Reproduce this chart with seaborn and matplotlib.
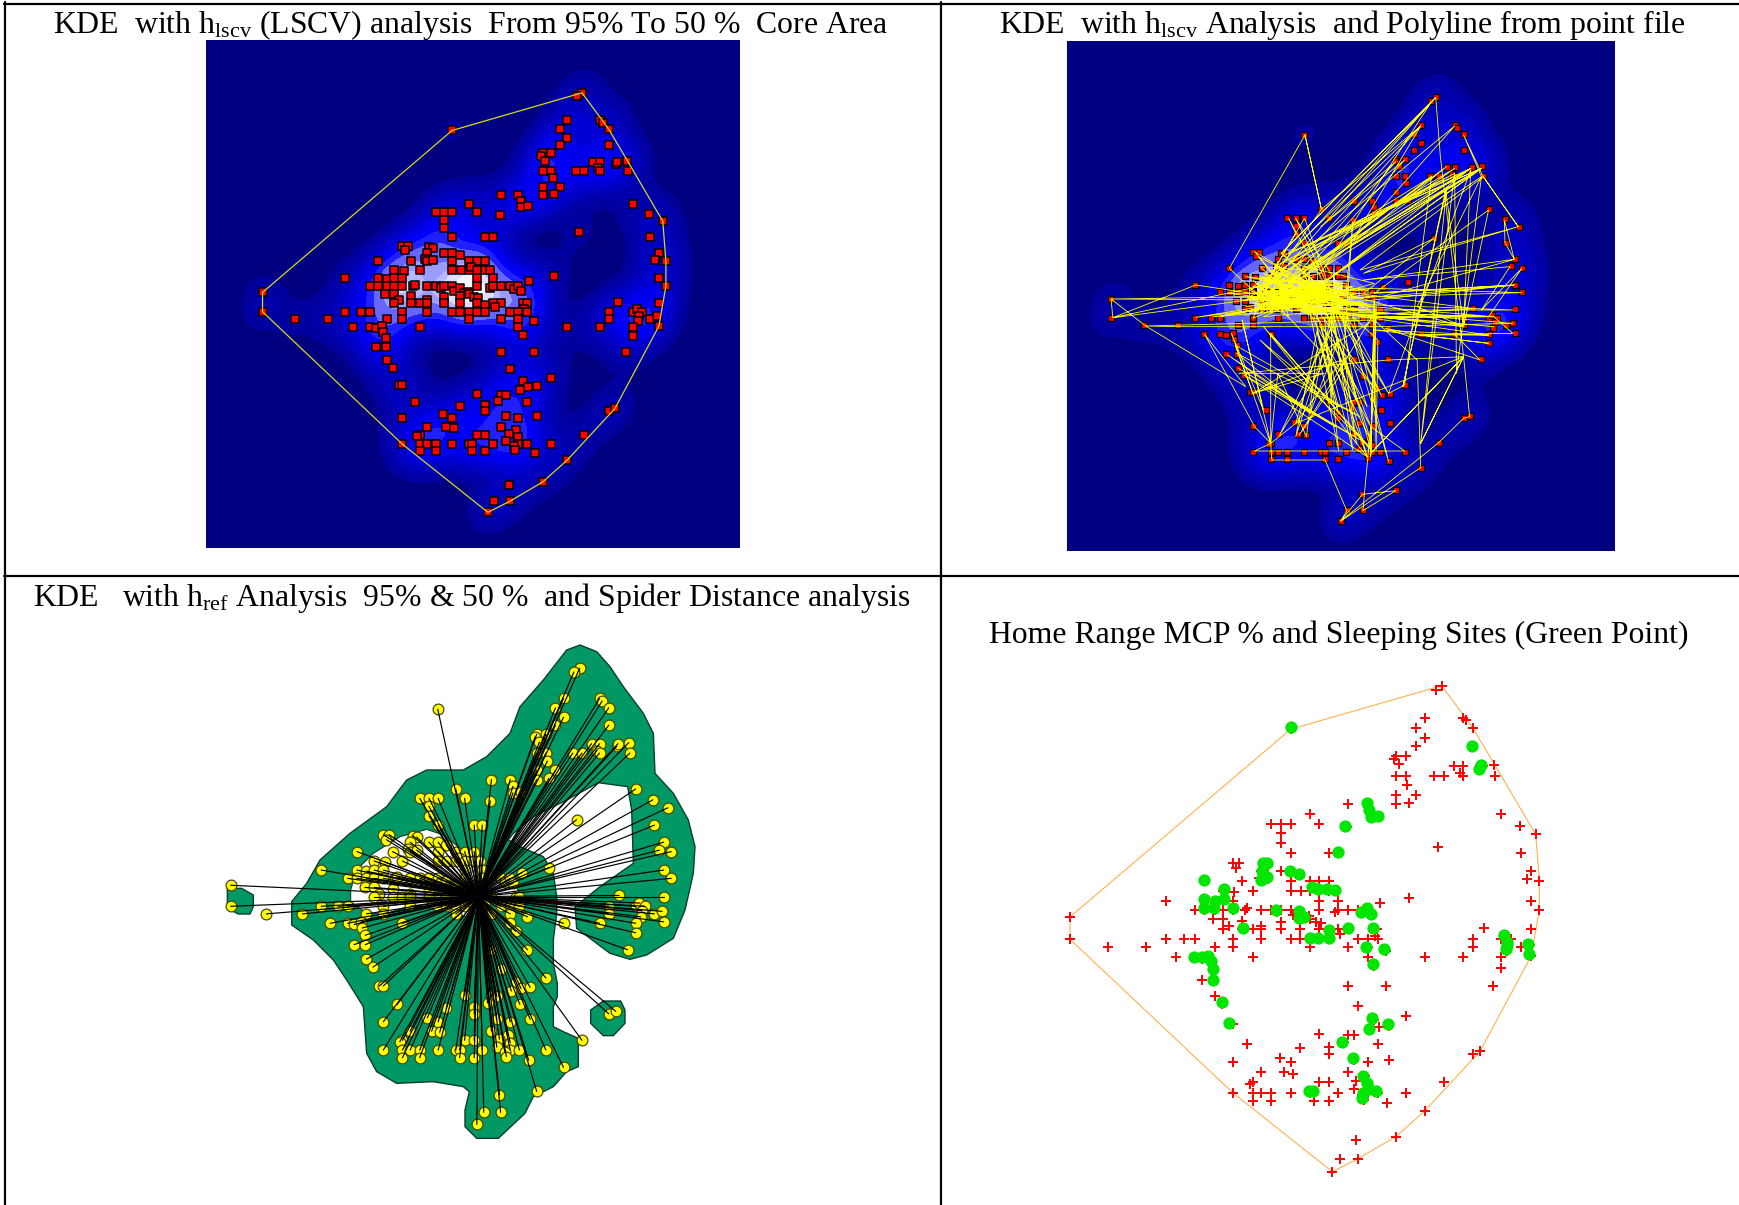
import matplotlib
matplotlib.use("Agg")
import matplotlib.pyplot as plt
from matplotlib.colors import LinearSegmentedColormap
import seaborn as sns

# all GPS fixes, in map units (same fixes are used by all four panels)
fixes = [
    (1088,158),(1073,168),(1046,241),(1025,267),(1046,293),(1025,315),(1140,241),(1147,248),(1164,267),(1164,315),
    (976,340),(972,347),(1000,340),(983,362),(976,392),(1000,392),(1004,414),(976,440),(1025,440),(976,465),(1008,462),
    (1070,392),(1094,392),(1119,366),(1140,366),(1133,385),(1140,392),(1185,373),(1188,366),(1216,363),(1219,392),
    (858,465),(907,465),(914,484),(914,502),(935,499),(855,524),(765,491),(788,517),(671,517),(695,517),(719,517),
    (695,539),(695,565),(719,591),(813,591),(834,591),(718,271),
    (1234,491),(1279,521),(1318,543),(1080,576),(1283,591),(1307,638),(1296,660),(1327,664),(1307,715),(1327,738),(1008,708),
    (576,617),(591,617),(584,631),(653,620),(663,624),(646,638),(695,638),(719,638),(740,645),(640,656),(646,664),(663,660),
    (719,664),(765,664),(788,664),(813,664),(507,664),(600,664),
    (552,690),(580,693),(626,690),(719,690),(743,690),(765,690),(773,682),(788,690),(813,690),(827,690),
    (414,715),(507,715),(532,718),(552,715),(576,715),(788,715),(834,715),(938,722),
    (483,738),(507,738),(532,738),(552,738),(576,738),(607,738),(611,734),(646,738),(671,738),(685,745),(695,738),(719,738),
    (723,752),(740,745),(751,759),(762,755),(827,745),(834,738),(858,738),(882,738),(893,748),(907,738),(914,752),(788,738),
    (528,763),(552,763),(566,781),(552,788),(600,767),(600,788),(626,788),(646,781),(646,788),(695,770),(695,788),(740,767),
    (740,788),(766,763),(780,770),(792,773),(788,788),(834,788),(858,788),(813,795),(840,802),(921,788),(930,788),(924,806),
    (178,757),(178,815),(414,815),(458,815),(483,815),(576,815),(646,815),(719,815),(740,815),(765,815),(788,815),(813,815),
    (882,815),(907,815),(931,815),
    (271,836),(365,836),(532,836),(576,836),(765,836),(858,836),(907,836),(952,844),
    (437,862),(483,862),(500,865),(518,858),(521,875),(626,862),(907,862),(921,884),(1046,862),(1140,862),
    (529,895),(500,921),(529,921),(858,935),(952,935),(532,961),(549,983),(882,987),(1000,1013),(921,1023),(566,1035),(576,1035),
    (935,1042),(959,1039),(910,1049),(788,1061),(858,1064),(872,1064),(848,1082),(612,1086),(932,1086),(740,1097),(813,1094),
    (813,1112),(691,1123),(576,1134),(719,1134),(872,1127),(907,1134),(959,1127),
    (646,1160),(702,1160),(723,1163),(858,1160),(900,1170),(879,1182),(626,1185),(619,1189),(788,1185),(813,1185),(907,1192),(1094,1185),
    (576,1212),(626,1212),(646,1212),(671,1212),(719,1212),(765,1212),(775,1212),(834,1212),(872,1204),(907,1212),(893,1218),(931,1212),(1000,1212),
    (626,1233),(671,1233),(775,1233),(813,1233),(897,1230),(955,1240),
    (1046,1260),(976,1326),(879,1336),(838,1384),(882,1384),(820,1417),
    (1191,785),(1164,815),(1164,836),(1234,815),(1244,806),(1258,815),(1251,827),(1247,844),(1283,836),(1303,829),(1307,788),(1307,858),
    (1234,862),(1234,888),(1213,935),(1164,1112),(1182,1105),
]
fix_x = [p[0] for p in fixes]
fix_y = [p[1] for p in fixes]

# minimum convex polygon
hull = [(178,757),(718,271),(1088,158),(1164,267),(1219,365),(1318,543),(1327,664),(1327,738),(1307,858),(1182,1105),
        (1046,1260),(976,1326),(882,1384),(820,1417),(576,1212),(178,815),(178,757)]
hull_x = [p[0] for p in hull]
hull_y = [p[1] for p in hull]

# spider distance centre
centre_x, centre_y = 824, 788

track = [
    (686,285),(474,685),(560,770),(732,508),(686,285),(732,508),(1010,258),(590,760),(880,745),(1293,758),(570,780),(143,777),
    (560,770),(1052,172),(620,640),(1040,185),(730,700),(148,833),(380,735),(600,770),(148,833),(143,777),(240,858),(520,1040),(405,883),
    (545,1160),(590,1210),(540,1060),(880,840),(240,858),(335,860),(880,860),(1268,850),(700,800),(1272,735),(850,760),(1047,595),(850,700),
    (1283,560),(840,690),(1185,410),(1283,560),(1185,410),(1130,285),(1180,410),(720,740),(1180,385),(620,650),(1150,385),(600,680),(1105,400),
    (640,670),(1105,258),(820,600),(1010,258),(640,640),(1180,385),(660,700),(1150,385),(750,720),(1180,385),(700,690),(1040,410),(650,720),
    (940,365),(730,560),(965,360),(680,700),(1082,380),(740,680),(1180,385),(780,640),(1150,385),(640,740),(1105,385),(560,740),
    (1052,172),(1065,350),(1130,950),(1147,1130),(1130,1135),(1058,1210),(786,1443),(803,1412),(742,1260),(593,1260),(590,1210),(545,1233),(965,1233),
    (870,1160),(848,1412),(940,1352),(847,1363),(786,1443),(1010,1283),(1000,960),(880,840),(870,1250),(880,780),(870,1230),(760,800),(760,1090),
    (740,830),(780,1230),(700,820),(870,1160),(740,800),(860,1250),(720,830),(860,1100),(760,780),(820,1230),(730,860),(885,1050),(700,780),
    (780,1120),(720,880),(870,1200),(760,840),(830,1085),(790,820),(900,1067),(770,800),(920,1060),(800,820),(920,1265),(820,830),(890,900),
    (885,1230),(880,900),(880,1100),(885,800),(870,1230),(590,880),(590,1210),(660,1150),(1130,950),(1010,1210),(1130,950),(870,1240),(1130,950),
    (920,960),(500,1000),(740,1000),(540,1060),(790,960),(660,1150),(720,930),(690,1190),(610,1000),(590,1210),(510,840),(570,1110),(480,880),
    (540,1060),(490,915),(840,1130),(495,940),(700,1120),(470,945),(770,1160),(500,985),(850,1205),(515,1005),(860,1250),(570,860),(870,1225),
    (560,900),(780,1100),(720,870),(660,1190),(760,860),(615,1185),(780,900),(700,1120),(760,820),(830,1210),(800,980),(670,1185),
    (880,820),(1215,830),(760,790),(1268,810),(700,810),(1215,860),(640,810),(1200,830),(700,835),(1160,806),(760,750),(1130,860),(650,800),
    (1200,885),(880,870),(1200,910),(1010,885),(1200,885),(1105,883),(1176,960),(910,865),(1010,885),(1268,880),(1215,830),(900,830),(1200,830),
    (1293,685),(1180,810),(1260,680),(850,720),(1272,658),(1244,540),(1246,608),(1272,658),(900,770),(1272,735),(880,760),(1200,510),(1130,860),
    (1080,450),(960,1040),(1082,450),(1010,1210),(1105,400),(1110,1000),(1180,410),(1000,800),(1130,860),(1150,390),(920,1060),(965,1035),(1040,410),
    # dense scribble in the core
    (540,740),(880,770),(560,800),(860,790),(550,760),(840,810),(580,720),(820,740),(600,810),(800,760),(620,700),(780,810),(540,790),(760,730),
    (570,830),(880,800),(590,750),(740,780),(610,680),(720,830),(640,760),(860,750),(560,710),(700,760),(620,810),(880,730),(650,670),(790,790),
    (530,770),(760,810),(570,760),(800,730),(600,720),(700,800),(540,810),(730,720),(680,770),(820,790),(630,740),(760,760),(580,790),(840,760),
    (610,770),(780,740),(660,800),(870,810),(590,690),(740,760),(550,780),(700,740),(640,790),(800,780),(620,750),(760,790),(570,770),(730,790),
    (680,700),(750,810),(600,790),(770,770),(650,760),(830,770),(560,750),(720,770),(610,740),(810,750),(580,810),(780,770),(660,730),(740,740),
    (540,760),(760,770),(520,800),(700,770),(450,830),(740,770),(380,832),(620,800),(430,830),(780,800),(470,760),(760,760),(520,710),(690,730),
    (545,635),(650,770),(555,650),(740,750),(620,640),(760,770),(640,535),(660,580),(560,760),(685,535),(760,760),(660,535),(800,770),(820,545),(790,1000),
    (540,720),(650,815),(530,750),(640,700),(545,815),(690,690),(560,680),(660,780),(540,835),(610,665),(590,820),(680,660),(520,780),(650,740),
    (570,700),(700,825),(555,740),(620,785),(530,815),(670,750),(600,700),(640,830),(545,770),(690,800),(580,740),(630,680),(560,820),(710,710),
]
track_x = [p[0] for p in track]
track_y = [p[1] for p in track]

# 95% KDE isopleth of panel 3 (crop units)
range_outer = [
    (1140,45),(1190,65),(1230,110),(1270,170),(1330,250),(1360,310),(1365,430),(1420,490),(1465,570),(1485,650),(1480,730),(1455,840),
    (1420,925),(1340,975),(1290,988),(1230,970),(1130,895),(1125,830),(1200,770),(1300,700),(1295,540),(1283,470),(1195,458),(1100,510),
    (1000,560),(940,610),(925,630),(960,650),(1030,680),(1060,730),(1070,800),(1070,850),(1060,930),(1060,1000),(1072,1060),(1072,1100),
    (1060,1130),(1060,1190),(1090,1205),(1135,1225),(1135,1310),(1100,1325),(1060,1370),(1000,1400),(990,1420),(975,1450),(895,1525),(830,1525),
    (795,1490),(795,1440),(808,1385),(790,1370),(700,1355),(590,1360),(530,1325),(500,1270),(495,1200),(490,1130),(440,1050),(400,990),
    (340,930),(275,885),(275,815),(320,760),(360,690),(450,610),(560,530),(620,450),(680,420),(790,420),(860,380),(930,310),(960,230),(1030,150),(1100,60),
]
range_hole = [
    (452,780),(470,720),(520,670),(600,620),(680,598),(730,615),(800,670),(860,720),(930,740),(960,790),(930,850),(870,820),(800,860),
    (720,840),(640,825),(560,850),(500,850),(452,815),
]
island_left = [(82,775),(125,775),(160,795),(160,830),(150,852),(115,852),(82,835)]
island_right = [(1210,1113),(1262,1113),(1275,1140),(1275,1180),(1240,1217),(1210,1217),(1172,1180),(1172,1140)]

# sleeping sites of panel 4 (crop units)
sleep_sites = [
    (723,172),(1265,229),(1293,285),(1288,297),(950,399),(958,420),(963,440),(985,437),(886,468),(865,545),
    (640,580),(652,580),(636,602),(650,620),(634,630),(720,602),(748,611),(463,630),(521,658),(463,686),(495,692),(521,686),
    (462,715),(492,715),(549,715),(785,650),(805,658),(830,658),(855,660),(679,720),(748,722),(748,745),(763,740),(950,715),
    (933,727),(963,733),(836,780),(893,775),(968,775),(578,775),(780,803),(805,803),(836,803),(949,832),(1003,838),(968,882),
    (432,860),(455,862),(475,858),(484,872),(490,898),(490,930),(515,995),(538,1058),
    (965,1043),(1013,1062),(956,1077),(877,1115),(908,1163),(940,1217),(950,1238),(958,1258),(978,1262),(940,1270),(936,1285),
    (778,1262),(790,1262),(1363,795),(1372,815),(1372,825),(1368,838),(1435,822),(1438,853),
]
sleep_x = [p[0] for p in sleep_sites]
sleep_y = [p[1] for p in sleep_sites]

titles = [
    ("KDE  with h$_{lscv}$ (LSCV) analysis  From 95% To 50 %  Core Area", 53, 33),
    ("KDE  with h$_{lscv}$ Analysis  and Polyline from point file", 999, 33),
    ("KDE   with h$_{ref}$ Analysis  95% & 50 %  and Spider Distance analysis", 33, 606),
    ("Home Range MCP % and Sleeping Sites (Green Point)", 989, 643),
]

kde_levels = [0.035, 0.08, 0.15, 0.25, 0.37, 0.5, 0.63, 0.74, 0.83, 0.89, 0.94, 0.975, 1]
kde_cmap = LinearSegmentedColormap.from_list(
    "kde", ["#00009a", "#0000c0", "#0000e8", "#0000ff", "#3838ff", "#8080ff", "#b0b0ff", "#e8e8ff", "#ffffff"])

W, H = 1740, 1205
sns.set_theme(style="white")
plt.rcParams["font.family"] = ["Liberation Serif", "DejaVu Serif"]
plt.rcParams["mathtext.default"] = "regular"

fig = plt.figure(figsize=(W / 100, H / 100), dpi=100, facecolor="white")


def make_axes(box, xlim, ylim, bg=None):
    left, top, right, bottom = box
    ax = fig.add_axes([left / W, 1 - bottom / H, (right - left) / W, (bottom - top) / H])
    ax.set_xlim(xlim)
    ax.set_ylim(ylim)
    ax.set_xticks([])
    ax.set_yticks([])
    sns.despine(ax=ax, left=True, bottom=True)
    if bg:
        ax.set_facecolor(bg)
    else:
        ax.patch.set_alpha(0)
    return ax


def tidy(ax, xlim, ylim):
    ax.set(xlabel="", ylabel="", xlim=xlim, ylim=ylim, xticks=[], yticks=[])


# panel 1 - KDE, fixes, MCP
lims1 = ((17, 1538), (1524, 1))
ax1 = make_axes((206, 40.5, 740, 548), *lims1, bg="#000080")
sns.kdeplot(x=fix_x, y=fix_y, ax=ax1, fill=True, levels=kde_levels, cmap=kde_cmap, bw_adjust=0.52, gridsize=220, cut=6)
sns.scatterplot(x=fix_x, y=fix_y, ax=ax1, marker="s", s=30, color="#ff0000", edgecolor="black", linewidth=1.1, zorder=5)
sns.lineplot(x=hull_x, y=hull_y, ax=ax1, sort=False, estimator=None, color="#d8d820", linewidth=0.9, zorder=6)
tidy(ax1, *lims1)

# panel 2 - KDE, fixes, track
lims2 = ((54.7, 1587.6), (1506.3, -9.3))
ax2 = make_axes((1067, 41, 1615, 551), *lims2, bg="#000080")
sns.kdeplot(x=fix_x, y=fix_y, ax=ax2, fill=True, levels=kde_levels, cmap=kde_cmap, bw_adjust=0.52, gridsize=220, cut=6)
sns.scatterplot(x=fix_x, y=fix_y, ax=ax2, marker="s", s=16, color="#ff0000", edgecolor="black", linewidth=0.9, zorder=5)
tidy(ax2, *lims2)
lims2b = ((0, 1568), (1560, 0))
ax2b = make_axes((1060, 40, 1620, 560), *lims2b)
sns.lineplot(x=track_x, y=track_y, ax=ax2b, sort=False, estimator=None, color="#ffff00", linewidth=0.6)
tidy(ax2b, *lims2b)

# panel 3 - isopleths and spider distance
lims3a = ((0, 1560), (1560, 0))
ax3a = make_axes((200, 630, 720, 1150), *lims3a)
for shape in [range_outer, island_left, island_right]:
    ax3a.fill([p[0] for p in shape], [p[1] for p in shape], facecolor="#009966", edgecolor="#0c3d2c", linewidth=1.0)
ax3a.fill([p[0] for p in range_hole], [p[1] for p in range_hole], facecolor="white", edgecolor="#0c3d2c", linewidth=0.8)
lims3 = ((98, 1454), (1487.9, 52.2))
ax3 = make_axes((200, 630, 720, 1150), *lims3)
sns.scatterplot(x=fix_x, y=fix_y, ax=ax3, marker="o", s=60, color="#ffff00", edgecolor="#4a4a00", linewidth=0.9, zorder=3)
for x, y in fixes:
    ax3.plot([centre_x, x], [centre_y, y], color="black", linewidth=0.85, zorder=4)
tidy(ax3, *lims3)

# panel 4 - MCP, fixes, sleeping sites
lims4 = ((129, 1402), (1464.4, 117.3))
ax4 = make_axes((1050, 670, 1570, 1190), *lims4)
sns.lineplot(x=hull_x, y=hull_y, ax=ax4, sort=False, estimator=None, color="#ffb050", linewidth=0.8)
sns.scatterplot(x=fix_x, y=fix_y, ax=ax4, marker="+", s=50, color="#ff0000", linewidth=1.4, zorder=4)
tidy(ax4, *lims4)
lims4b = ((0, 1560), (1560, 0))
ax4b = make_axes((1050, 670, 1570, 1190), *lims4b)
sns.scatterplot(x=sleep_x, y=sleep_y, ax=ax4b, marker="o", s=78, color="#00e600", linewidth=0, zorder=5)
tidy(ax4b, *lims4b)

# table rules
for xs, ys in [((4, W), (3.5, 3.5)), ((5, 5), (2, H)), ((941, 941), (2, H)), ((4, W), (575.5, 575.5))]:
    fig.add_artist(plt.Line2D([x / W for x in xs], [1 - y / H for y in ys], color="black", linewidth=1.6))

for text, x, y in titles:
    fig.text(x / W, 1 - y / H, text, fontsize=22.9, color="black", ha="left", va="baseline")

fig.savefig("out.png", dpi=100)
